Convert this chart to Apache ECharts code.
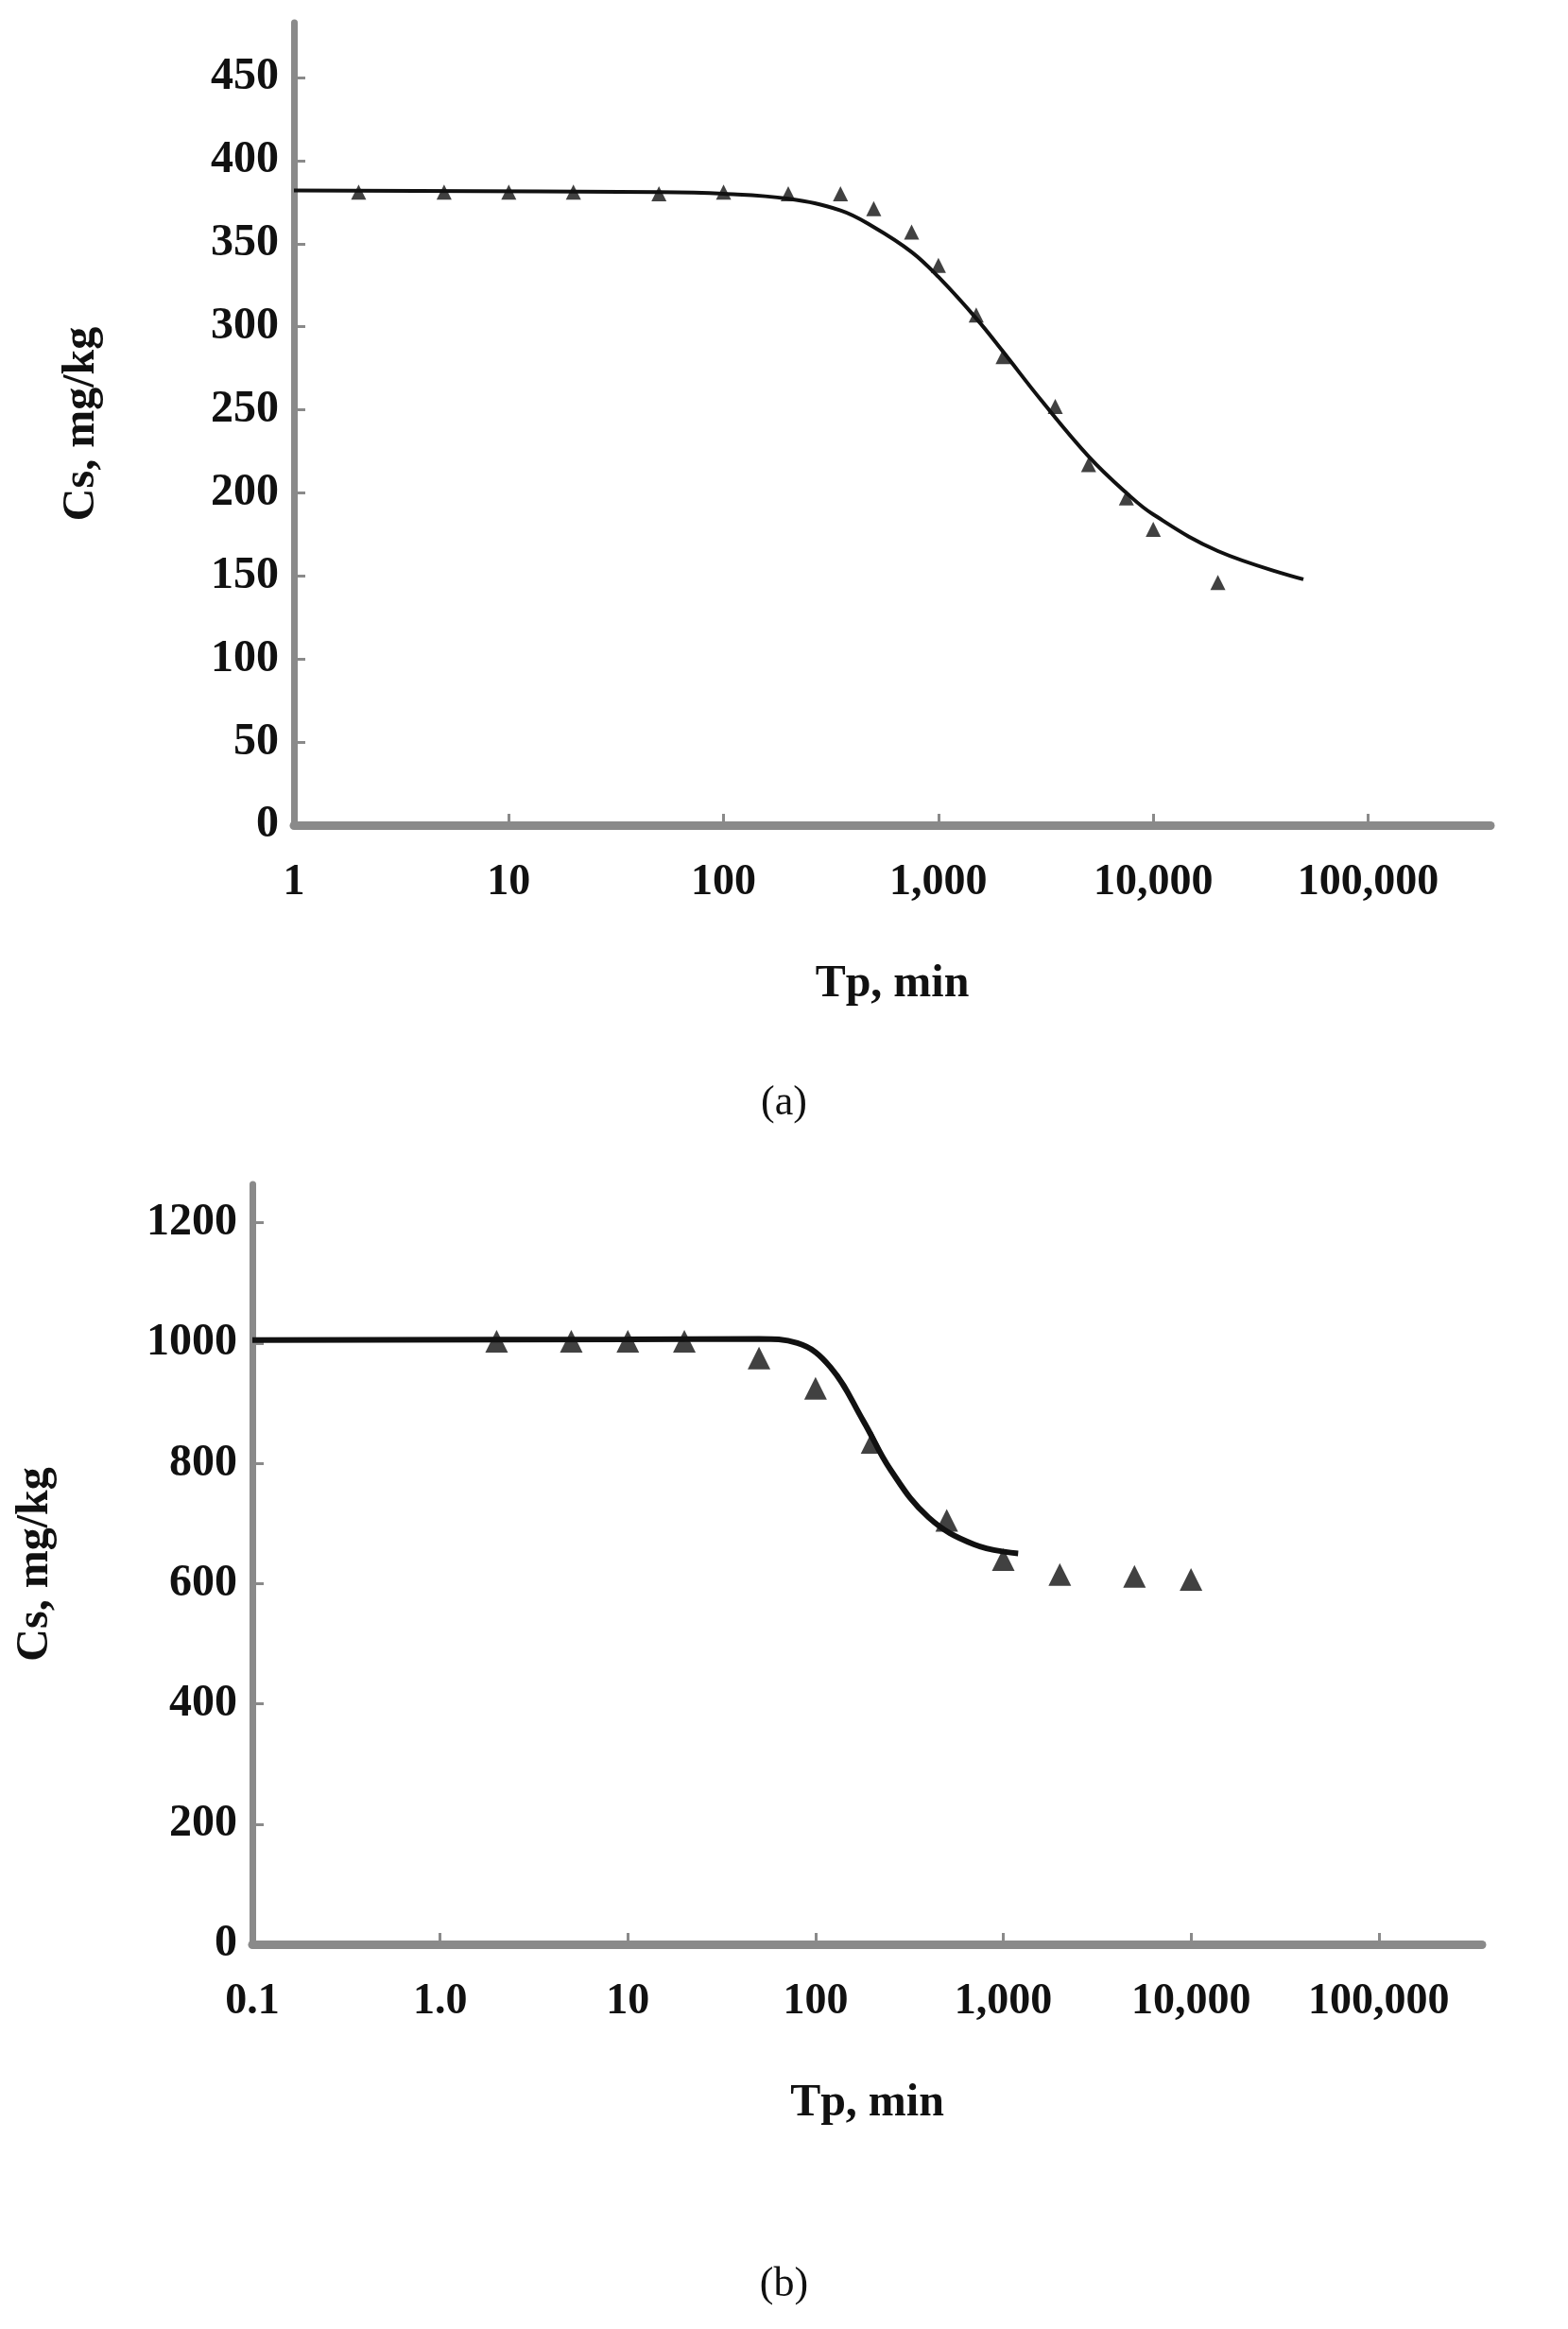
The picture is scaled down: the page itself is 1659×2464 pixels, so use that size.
<!DOCTYPE html>
<html><head><meta charset="utf-8">
<script src="https://cdn.jsdelivr.net/npm/echarts@6/dist/echarts.min.js"></script>
<style>html,body{margin:0;background:#fff}#c{width:1659px;height:2464px}</style>
</head><body><div id="c"></div>
<script>
// panel (a)
const ticksA = ['1', '10', '100', '1,000', '10,000', '100,000'];
const pointsTimeA = [2, 5, 10, 20, 50, 100, 200, 350, 500, 750, 1000, 1500, 2000, 3500, 5000, 7500, 10000, 20000];
const pointsCsA = [381, 381, 381, 381, 380, 381, 380, 380, 371, 357, 337, 307, 282, 252, 217, 197, 178, 146];
const fitTimeA = [1, 50, 100, 200, 350, 500, 750, 1000, 1500, 2000, 3000, 5000, 7500, 10000, 20000, 50000];
const fitCsA = [382, 381, 380, 377, 370, 360, 345, 330, 305, 285, 256, 222, 200, 187, 165, 148];
// panel (b)
const ticksB = ['0.1', '1.0', '10', '100', '1,000', '10,000', '100,000'];
const pointsTimeB = [2, 5, 10, 20, 50, 100, 200, 500, 1000, 2000, 5000, 10000];
const pointsCsB = [1003, 1003, 1003, 1003, 975, 925, 835, 705, 640, 615, 612, 607];
const fitTimeB = [0.1, 10, 50, 80, 120, 180, 250, 400, 700, 1200];
const fitCsB = [1005, 1006, 1007, 1000, 960, 870, 790, 710, 665, 650];

const pair = (xs, ys) => xs.map((t, i) => [Math.log10(t), ys[i]]);
const font = 'Liberation Serif';
const gray = '#8a8a8a';

function xAxis(gi, min, max, labels) {
    return {
        gridIndex: gi, type: 'value', min: min, max: max, interval: 1,
        axisLine: { onZero: false, lineStyle: { color: gray, width: 9 } },
        axisTick: { inside: true, length: 12, lineStyle: { color: gray, width: 3 } },
        splitLine: { show: false },
        axisLabel: {
            margin: 38, showMaxLabel: false, color: '#111',
            fontFamily: font, fontWeight: 'bold', fontSize: 46,
            formatter: v => labels[Math.round(v - min)] || ''
        },
        name: 'Tp, min', nameLocation: 'middle', nameGap: 145,
        nameTextStyle: { fontFamily: font, fontWeight: 'bold', fontSize: 48, color: '#111' }
    };
}
function yAxis(gi, max, step, gap) {
    return {
        gridIndex: gi, type: 'value', min: 0, max: max, interval: step,
        axisLine: { onZero: false, lineStyle: { color: gray, width: 7 } },
        axisTick: { inside: true, length: 12, lineStyle: { color: gray, width: 3 } },
        splitLine: { show: false },
        axisLabel: { margin: 16, showMaxLabel: false, color: '#111', fontFamily: font, fontWeight: 'bold', fontSize: 48, formatter: v => String(v) },
        name: 'Cs, mg/kg', nameLocation: 'middle', nameGap: gap, nameRotate: 90,
        nameTextStyle: { fontFamily: font, fontWeight: 'bold', fontSize: 48, color: '#111' }
    };
}

const chart = echarts.init(document.getElementById('c'));
chart.setOption({
    animation: false,
    grid: [
        { left: 311, top: 24, width: 1266, height: 849 },
        { left: 267, top: 1253, width: 1301, height: 804 }
    ],
    xAxis: [xAxis(0, 0, 5.57, ticksA), xAxis(1, -1, 5.55, ticksB)],
    yAxis: [yAxis(0, 483, 50, 200), yAxis(1, 1264, 200, 205)],
    graphic: [
        { type: 'text', left: 'center', top: 1145, style: { text: '(a)', font: '44px "Liberation Serif"', fill: '#111' } },
        { type: 'text', left: 'center', top: 2395, style: { text: '(b)', font: '44px "Liberation Serif"', fill: '#111' } }
    ],
    series: [
        { type: 'line', xAxisIndex: 0, yAxisIndex: 0, data: pair(fitTimeA, fitCsA), smooth: 0.4, symbol: 'none', lineStyle: { color: '#111', width: 4 } },
        { type: 'scatter', xAxisIndex: 0, yAxisIndex: 0, data: pair(pointsTimeA, pointsCsA), symbol: 'triangle', symbolSize: 16, itemStyle: { color: '#111' } },
        { type: 'line', xAxisIndex: 1, yAxisIndex: 1, data: pair(fitTimeB, fitCsB), smooth: 0.4, symbol: 'none', lineStyle: { color: '#111', width: 6 } },
        { type: 'scatter', xAxisIndex: 1, yAxisIndex: 1, data: pair(pointsTimeB, pointsCsB), symbol: 'triangle', symbolSize: 24, itemStyle: { color: '#111' } }
    ]
});
</script></body></html>
